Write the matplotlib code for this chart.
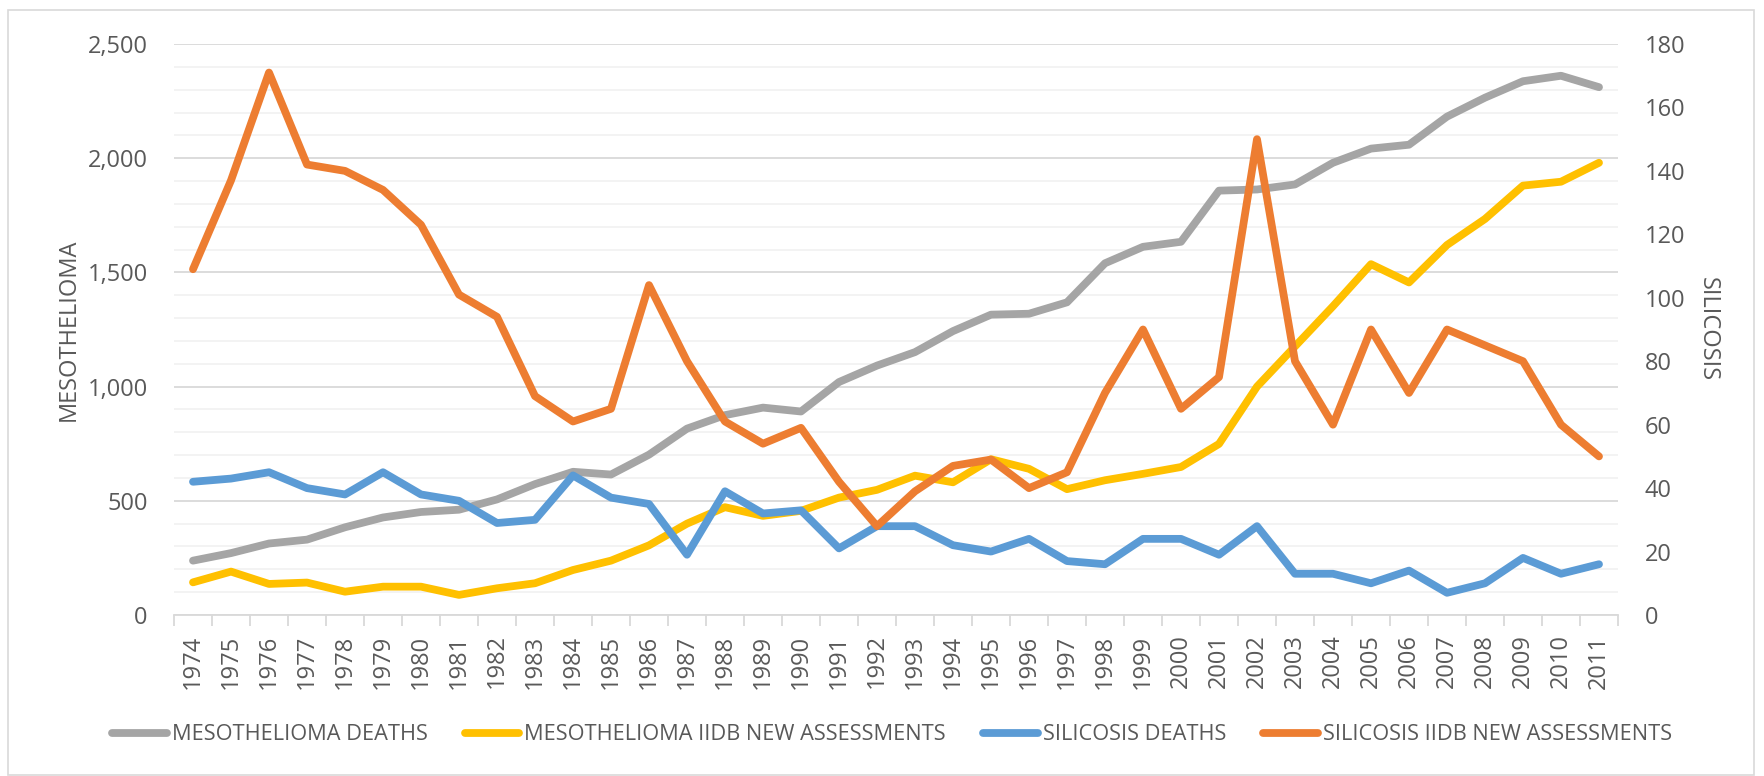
import matplotlib
matplotlib.use("Agg")
import matplotlib.pyplot as plt
from matplotlib.patches import Rectangle
from matplotlib.ticker import MultipleLocator, FuncFormatter

plt.rcParams['font.family'] = ['Open Sans', 'DejaVu Sans']

years = list(range(1974, 2012))
meso_deaths = [238, 271, 313, 330, 384, 427, 451, 461, 506, 573, 627, 615, 702, 816, 875, 908,
               891, 1020, 1092, 1151, 1243, 1315, 1319, 1369, 1540, 1612, 1634, 1858, 1863, 1885,
               1980, 2042, 2059, 2182, 2265, 2337, 2361, 2311]
meso_iidb = [143, 190, 136, 142, 102, 124, 124, 88, 117, 139, 197, 238, 305, 400, 472, 434,
             456, 514, 548, 610, 581, 682, 640, 551, 590, 618, 648, 749, 1000, 1176, 1352,
             1536, 1456, 1620, 1734, 1880, 1897, 1980]
sil_deaths = [42, 43, 45, 40, 38, 45, 38, 36, 29, 30, 44, 37, 35, 19, 39, 32, 33, 21, 28, 28,
              22, 20, 24, 17, 16, 24, 24, 19, 28, 13, 13, 10, 14, 7, 10, 18, 13, 16]
sil_iidb = [109, 137, 171, 142, 140, 134, 123, 101, 94, 69, 61, 65, 104, 80, 61, 54, 59, 42,
            28, 39, 47, 49, 40, 45, 70, 90, 65, 75, 150, 80, 60, 90, 70, 90, 85, 80, 60, 50]

labels = ['MESOTHELIOMA DEATHS', 'MESOTHELIOMA IIDB NEW ASSESSMENTS',
          'SILICOSIS DEATHS', 'SILICOSIS IIDB NEW ASSESSMENTS']
colors = ['#A5A5A5', '#FFC000', '#5B9BD5', '#ED7D31']

W, H = 1764, 776
fig = plt.figure(figsize=(W / 100, H / 100), dpi=100)
fig.patches.append(Rectangle((8 / W, 1 / H), (1754 - 8) / W, (766 - 1) / H,
                             transform=fig.transFigure, fill=False,
                             edgecolor='#D9D9D9', linewidth=1.2))

L, R, T, B = 174, 1618, 44, 615
ax = fig.add_axes([L / W, 1 - B / H, (R - L) / W, (B - T) / H])
ax2 = ax.twinx()

txt = '#595959'
fs = 17
lw = 5.6

l1, = ax.plot(years, meso_deaths, color=colors[0], lw=lw, solid_capstyle='round', solid_joinstyle='round')
l2, = ax.plot(years, meso_iidb, color=colors[1], lw=lw, solid_capstyle='round', solid_joinstyle='round')
l3, = ax2.plot(years, sil_deaths, color=colors[2], lw=lw, solid_capstyle='round', solid_joinstyle='round')
l4, = ax2.plot(years, sil_iidb, color=colors[3], lw=lw, solid_capstyle='round', solid_joinstyle='round')

ax.set_xlim(1973.5, 2011.5)
ax.set_ylim(0, 2500)
ax2.set_ylim(0, 180)

ax.yaxis.set_major_locator(MultipleLocator(500))
ax.yaxis.set_minor_locator(MultipleLocator(100))
ax.yaxis.set_major_formatter(FuncFormatter(lambda v, p: f"{int(v):,}"))
ax2.yaxis.set_major_locator(MultipleLocator(20))

ax.grid(axis='y', which='major', color='#D9D9D9', lw=1.3)
ax.grid(axis='y', which='minor', color='#F2F2F2', lw=1.3)
ax.set_axisbelow(True)

ax.set_xticks(years)
ax.set_xticklabels([str(y) for y in years], rotation=90, fontsize=fs, color=txt)
ax.set_xticks([y + 0.5 for y in [1973] + years], minor=True)
ax.tick_params(axis='x', which='major', length=0, pad=14)
ax.tick_params(axis='x', which='minor', length=8, color='#D9D9D9', width=1.3)
ax.tick_params(axis='y', which='both', length=0, labelsize=fs, labelcolor=txt, pad=19)
ax2.tick_params(axis='y', which='both', length=0, labelsize=fs, labelcolor=txt, pad=19)

for a in (ax, ax2):
    for s in ['top', 'left', 'right', 'bottom']:
        a.spines[s].set_visible(False)
ax.spines['bottom'].set_visible(True)
ax.spines['bottom'].set_color('#D9D9D9')
ax.spines['bottom'].set_linewidth(1.3)

ax.set_ylabel('MESOTHELIOMA', fontsize=fs, color=txt, labelpad=5)
ax2.set_ylabel('SILICOSIS', fontsize=fs, color=txt, rotation=-90, labelpad=25)

fig.legend([l1, l2, l3, l4], labels, loc='center', ncol=4,
           bbox_to_anchor=(892 / W, 1 - 735 / H), frameon=False,
           fontsize=15.7, labelcolor=txt, handlelength=2.5, handletextpad=0.23,
           columnspacing=1.7)

fig.savefig('out.png', dpi=100)
